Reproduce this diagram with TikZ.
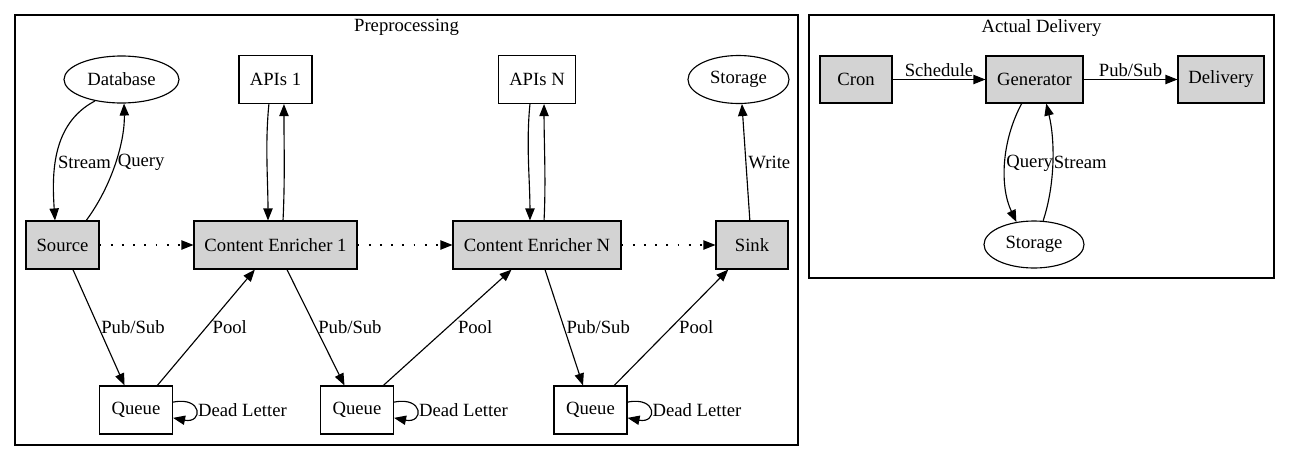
\documentclass[tikz,border=0pt]{standalone}
\usepackage{fontspec}
\setmainfont{Liberation Serif}
\usepackage{tikz}
\usetikzlibrary{positioning}
\usetikzlibrary{shapes.geometric}
\usetikzlibrary{arrows.meta}
\usetikzlibrary{fit}
\definecolor{procgray}{HTML}{D3D3D3}

\begin{document}
\begin{tikzpicture}[x=0.75pt, y=-0.75pt, font=\fontsize{14pt}{16pt}\selectfont, line width=0.85pt,
	>={Triangle[length=9pt, width=7pt]},
	cluster/.style={draw, inner sep=0pt},
	box/.style={draw, rectangle, minimum height=36pt, inner sep=1pt},
	proc/.style={box, fill=procgray},
	store/.style={draw, ellipse, inner sep=0pt},
	lbl/.style={inner sep=1.5pt},
	flow/.style={->, dash pattern=on 1.4pt off 7pt}]
	\useasboundingbox (0,0) rectangle (1291,461);

	\node [cluster, fit={(15,15) (798,445)}] (pre) {};
	\node [below=0pt of pre.north] (preTitle) {Preprocessing};
	\node [cluster, fit={(809,15) (1274,278)}] (act) {};
	\node [below=0pt of act.north] (actTitle) {Actual Delivery};

	\node [store, minimum width=86.25pt, minimum height=35.25pt] (db) at (121.5,79.5) {Database};
	\node [box, minimum width=54.75pt] (api1) at (275.5,79.5) {APIs 1};
	\node [box, minimum width=57.75pt] (apiN) at (537,79.5) {APIs N};
	\node [store, minimum width=75.75pt, minimum height=36pt] (sto) at (738.5,79.5) {Storage};

	\node [proc, minimum width=54.75pt] (src) at (62.5,245) {Source};
	\node [proc, minimum width=122.25pt] (ce1) at (275.5,245) {Content Enricher 1};
	\node [proc, minimum width=126pt] (ceN) at (537,245) {Content Enricher N};
	\node [proc, minimum width=54pt] (sink) at (752,245) {Sink};

	\node [box, minimum width=54.75pt] (q1) at (136,410) {Queue};
	\node [box, minimum width=54.75pt] (q2) at (357,410) {Queue};
	\node [box, minimum width=54.75pt] (q3) at (590.5,410) {Queue};

	\node [proc, minimum width=54pt, minimum height=35.25pt] (cron) at (856,79.5) {Cron};
	\node [proc, minimum width=72.75pt, minimum height=35.25pt] (gen) at (1034.5,79.5) {Generator};
	\node [proc, minimum width=64.5pt, minimum height=35.25pt] (dlv) at (1221,79.5) {Delivery};
	\node [store, minimum width=75pt, minimum height=35.25pt] (sto2) at (1034,244.5) {Storage};

	\draw [->] (db.219) .. controls +(-44,23) and +(-3,-45) .. (src.107) node [lbl, pos=0.58, right] {Stream};
	\draw [->] (src.46) .. controls +(26,-35) and +(1,37) .. (db.276) node [lbl, pos=0.5, right] {Query};
	\draw [->] (api1.255) .. controls +(-4,40) and +(0,-40) .. (ce1.107);
	\draw [->] (ce1.73) .. controls +(2,-40) and +(0,40) .. (api1.289);
	\draw [->] (apiN.254) .. controls +(-4,40) and +(0,-40) .. (ceN.106);
	\draw [->] (ceN.74) .. controls +(2,-40) and +(0,40) .. (apiN.286);
	\draw [->] (sink.95) -- (sto.278) node [lbl, midway, right] {Write};

	\draw [flow] (src) -- (ce1);
	\draw [flow] (ce1) -- (ceN);
	\draw [flow] (ceN) -- (sink);

	\draw [->] (src.293) -- (q1.115) node [lbl, midway, right] {Pub/Sub};
	\draw [->] (q1.49) -- (ce1.230) node [lbl, midway, right=3pt] {Pool};
	\draw [->] (ce1.295) -- (q2.117) node [lbl, midway, right] {Pub/Sub};
	\draw [->] (q2.43) -- (ceN.224) node [lbl, midway, right=6pt] {Pool};
	\draw [->] (ceN.288) -- (q3.107) node [lbl, midway, right] {Pub/Sub};
	\draw [->] (q3.46) -- (sink.226) node [lbl, midway, right=4pt] {Pool};
	\foreach \q in {q1,q2,q3}
		\draw [->] (\q.12) .. controls +(30,-6) and +(30,6) .. (\q.-12) node [lbl, pos=0.5, right] {Dead Letter};

	\draw [->] (cron) -- (gen) node [lbl, midway, above] {Schedule};
	\draw [->] (gen) -- (dlv) node [lbl, midway, above] {Pub/Sub};
	\draw [->] (gen.242) .. controls +(-20,37) and +(-17,-36) .. (sto2.128) node [lbl, pos=0.5, right, inner sep=0.5pt] {Query};
	\draw [->] (sto2.69) .. controls +(12,-36) and +(9,37) .. (gen.296) node [lbl, pos=0.5, right, inner sep=0.5pt] {Stream};
\end{tikzpicture}
\end{document}
